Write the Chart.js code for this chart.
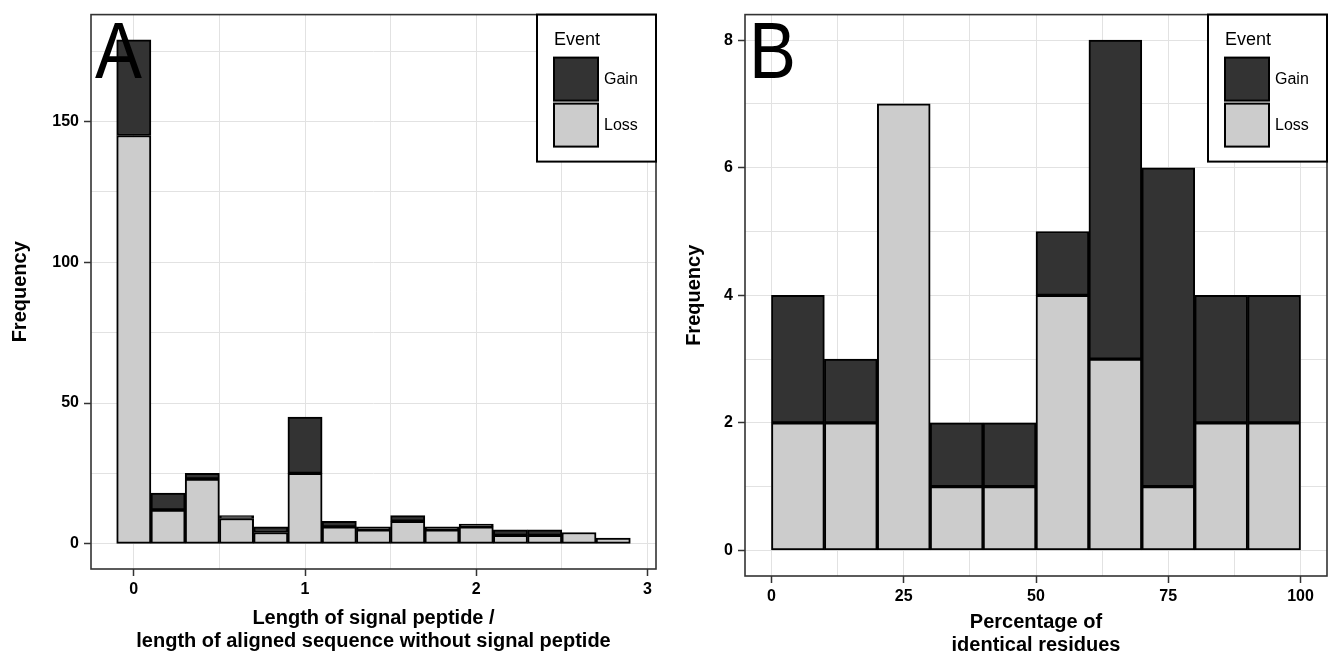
<!DOCTYPE html>
<html><head><meta charset="utf-8">
<script src="https://cdn.jsdelivr.net/npm/chart.js@4.4.1/dist/chart.umd.min.js"></script>
<style>
html,body{margin:0;padding:0;background:#fff;width:1329px;height:655px;overflow:hidden}
#a{position:absolute;left:0;top:0}
#b{position:absolute;left:665px;top:0}
</style></head><body>
<canvas id="a" width="665" height="655"></canvas>
<canvas id="b" width="664" height="655"></canvas>
<script>
// ---------- data ----------
const seriesNames = ['Gain', 'Loss'];
const legendTitle = 'Event';

// Panel A: bin centres (bin width 0.2)
const binCentersA = [0, 0.2, 0.4, 0.6, 0.8, 1.0, 1.2, 1.4, 1.6, 1.8, 2.0, 2.2, 2.4, 2.6, 2.8];
const lossA = [145, 12, 23, 9, 4, 25, 6, 5, 8, 5, 6, 3, 3, 4, 2];
const gainA = [34, 6, 2, 1, 2, 20, 2, 1, 2, 1, 1, 2, 2, 0, 0];
const xMajorA = [0, 1, 2, 3];
const yMajorA = [0, 50, 100, 150];
const xTitleA = ['Length of signal peptide /', 'length of aligned sequence without signal peptide'];

// Panel B: bin centres (bin width 10)
const binCentersB = [5, 15, 25, 35, 45, 55, 65, 75, 85, 95];
const lossB = [2, 2, 7, 1, 1, 4, 3, 1, 2, 2];
const gainB = [2, 1, 0, 1, 1, 1, 5, 5, 2, 2];
const xMajorB = [0, 25, 50, 75, 100];
const yMajorB = [0, 2, 4, 6, 8];
const xTitleB = ['Percentage of', 'identical residues'];
const yTitle = 'Frequency';

// ---------- styling ----------
const FONT = '"Liberation Sans", Arial, Helvetica, sans-serif';
const GAIN_COL = '#333333';
const LOSS_COL = '#cccccc';
const GRID_COL = '#e2e2e2';
const FRAME_COL = '#333333';

function pts(xs, ys) { return xs.map((x, i) => ({x: x, y: ys[i]})); }
function isMajor(list, v) { return list.some(m => Math.abs(m - v) < 1e-9); }

const panelPlugin = {
  id: 'panel',
  afterDraw(chart, args, opts) {
    const ctx = chart.ctx, a = chart.chartArea;
    ctx.save();
    ctx.fillStyle = '#000';
    ctx.font = '80px ' + FONT;
    ctx.textAlign = 'left';
    ctx.textBaseline = 'alphabetic';
    ctx.translate(a.left + opts.letterDx, a.top + 63);
    ctx.scale(0.88, 1);
    ctx.fillText(opts.letter, 0, 0);
    ctx.restore();

    ctx.save();
    ctx.strokeStyle = FRAME_COL;
    ctx.lineWidth = 1.6;
    ctx.strokeRect(a.left, a.top, a.right - a.left, a.bottom - a.top);
    ctx.restore();

    const w = 119, h = 147;
    const x0 = a.right - w, y0 = a.top;
    ctx.save();
    ctx.fillStyle = '#fff';
    ctx.fillRect(x0, y0, w, h);
    ctx.strokeStyle = '#000';
    ctx.lineWidth = 2;
    ctx.strokeRect(x0, y0, w, h);
    ctx.fillStyle = '#000';
    ctx.font = '18px ' + FONT;
    ctx.textAlign = 'left';
    ctx.textBaseline = 'alphabetic';
    ctx.fillText(legendTitle, x0 + 17, y0 + 30);
    const ds = chart.data.datasets.slice().reverse();
    ds.forEach((d, i) => {
      const ky = y0 + 43 + i * 46;
      ctx.fillStyle = d.backgroundColor;
      ctx.fillRect(x0 + 17, ky, 44, 43);
      ctx.strokeStyle = '#000';
      ctx.lineWidth = 2;
      ctx.strokeRect(x0 + 17, ky, 44, 43);
      ctx.fillStyle = '#000';
      ctx.font = '16px ' + FONT;
      ctx.textBaseline = 'middle';
      ctx.fillText(d.label, x0 + 67, ky + 22);
    });
    ctx.restore();
  }
};

function tickCol(list) {
  return c => (c && c.tick && isMajor(list, c.tick.value)) ? FRAME_COL : 'rgba(0,0,0,0)';
}

function makeChart(id, cfg) {
  const datasets = [
    {label: seriesNames[1], data: pts(cfg.centers, cfg.loss), backgroundColor: LOSS_COL},
    {label: seriesNames[0], data: pts(cfg.centers, cfg.gain), backgroundColor: GAIN_COL}
  ].map(d => Object.assign(d, {
    borderColor: '#000', borderWidth: 2, borderSkipped: false,
    grouped: false, barPercentage: 1, categoryPercentage: 1
  }));
  return new Chart(document.getElementById(id), {
    type: 'bar',
    data: {datasets: datasets},
    plugins: [panelPlugin],
    options: {
      responsive: false, animation: false, devicePixelRatio: 1,
      layout: {padding: {top: 12, right: cfg.padRight, left: 0, bottom: 0}},
      plugins: {
        legend: {display: false}, tooltip: {enabled: false},
        panel: {letter: cfg.letter, letterDx: cfg.letterDx}
      },
      scales: {
        x: {
          type: 'linear', min: cfg.xmin, max: cfg.xmax, offset: false,
          afterFit: s => { s.height = cfg.xHeight; },
          border: {display: false},
          grid: {
            offset: false,
            color: GRID_COL, lineWidth: 1, drawTicks: true, tickLength: 7, tickWidth: 1.5,
            tickColor: tickCol(cfg.xMajor)
          },
          ticks: {
            stepSize: cfg.xStep, includeBounds: false, autoSkip: false, maxRotation: 0,
            maxTicksLimit: 30, padding: 4, color: '#000',
            font: {family: FONT, size: 16, weight: 'bold'},
            callback: v => isMajor(cfg.xMajor, v) ? String(v) : ''
          },
          title: {
            display: true, text: cfg.xTitle, color: '#000',
            font: {family: FONT, size: 20, weight: 'bold', lineHeight: 1.15},
            padding: {top: 0, bottom: cfg.xTitlePad}
          }
        },
        y: {
          type: 'linear', stacked: true, min: cfg.ymin, max: cfg.ymax,
          afterFit: s => { s.width = cfg.yWidth; },
          border: {display: false},
          grid: {
            color: GRID_COL, lineWidth: 1, drawTicks: true, tickLength: 7, tickWidth: 1.5,
            tickColor: tickCol(cfg.yMajor)
          },
          ticks: {
            stepSize: cfg.yStep, includeBounds: false, autoSkip: false,
            maxTicksLimit: 30, padding: 5, color: '#000',
            font: {family: FONT, size: 16, weight: 'bold'},
            callback: v => isMajor(cfg.yMajor, v) ? String(v) : ''
          },
          title: {
            display: true, text: yTitle, color: '#000',
            font: {family: FONT, size: 20, weight: 'bold'},
            padding: {top: cfg.yTitlePad, bottom: 0}
          }
        }
      }
    }
  });
}

makeChart('a', {
  centers: binCentersA, loss: lossA, gain: gainA,
  xmin: -0.25, xmax: 3.05, xStep: 0.5, xMajor: xMajorA,
  ymin: -8.95, ymax: 187.95, yStep: 25, yMajor: yMajorA,
  xTitle: xTitleA, letter: 'A', letterDx: 4,
  padRight: 9, yWidth: 91, xHeight: 86, yTitlePad: 8, xTitlePad: 2
});
makeChart('b', {
  centers: binCentersB, loss: lossB, gain: gainB,
  xmin: -5, xmax: 105, xStep: 12.5, xMajor: xMajorB,
  ymin: -0.4, ymax: 8.4, yStep: 1, yMajor: yMajorB,
  xTitle: xTitleB, letter: 'B', letterDx: 4,
  padRight: 2, yWidth: 80, xHeight: 79, yTitlePad: 17, xTitlePad: -2
});
</script>
</body></html>
